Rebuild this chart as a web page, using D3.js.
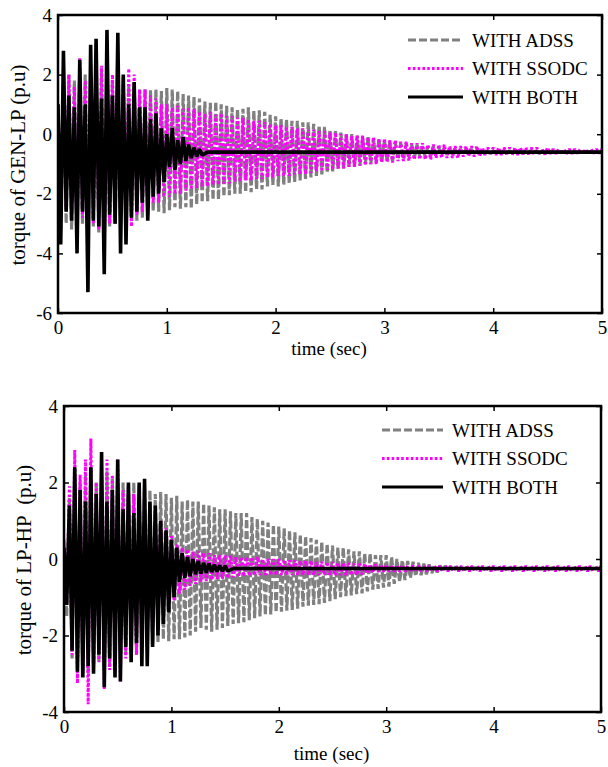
<!DOCTYPE html>
<html>
<head>
<meta charset="utf-8">
<script src="https://cdn.jsdelivr.net/npm/d3@7"></script>
<style>
  body { margin: 0; background: #fff; }
  svg { display: block; }
  svg text { font-family: 'Liberation Serif', 'Times New Roman', Times, 'DejaVu Serif', serif; fill: #000; }
</style>
</head>
<body>
<svg width="608" height="767"></svg>
<script>
// upper peaks are read every dt seconds, lower peaks half-way between them
const dt = 0.05
const xTicks = [0, 1, 2, 3, 4, 5]
const seriesNames = ['WITH ADSS', 'WITH SSODC', 'WITH BOTH']

// ---- torque of GEN-LP ----
const genTicks = [-6, -4, -2, 0, 2, 4]
const genRest = -0.6
const genAdssHi = [1.0,1.8,2.0,1.8,2.2,2.0,1.8,2.0,2.2,2.0,1.8,1.8,1.7,1.6,1.6,1.5,1.55,1.5,1.5,1.45,
  1.55,1.5,1.45,1.35,1.3,1.25,1.2,1.1,1.05,1.1,1.0,0.95,0.9,0.85,0.85,0.9,0.8,0.8,0.75,0.65,
  0.6,0.55,0.5,0.45,0.45,0.4,0.4,0.35,0.3,0.25,0.15,0.1,0.05,0.0,0.0,-0.05,-0.1,-0.1,-0.15,-0.15,
  -0.2,-0.25,-0.25,-0.3,-0.3,-0.35,-0.35,-0.4,-0.4,-0.4,-0.45,-0.45,-0.45,-0.5,-0.5,-0.5,-0.5,-0.5,-0.55,-0.55,
  -0.55,-0.55,-0.55,-0.55,-0.55,-0.55,-0.55,-0.55,-0.55,-0.55,-0.55]
const genAdssLo = [-3.2,-3.0,-3.2,-3.5,-3.0,-3.2,-3.1,-3.3,-3.5,-3.1,-3.0,-3.0,-3.0,-2.9,-2.9,-2.8,-2.7,-2.6,-2.6,-2.65,
  -2.55,-2.45,-2.5,-2.45,-2.5,-2.35,-2.3,-2.25,-2.2,-2.2,-2.1,-2.05,-2.0,-2.0,-1.95,-1.95,-1.85,-1.85,-1.75,-1.7,
  -1.75,-1.7,-1.65,-1.6,-1.55,-1.5,-1.45,-1.4,-1.35,-1.3,-1.25,-1.2,-1.15,-1.1,-1.1,-1.05,-1.0,-1.0,-0.95,-0.95,
  -0.9,-0.9,-0.85,-0.85,-0.8,-0.8,-0.75,-0.75,-0.75,-0.7,-0.7,-0.7,-0.7,-0.65,-0.65,-0.65,-0.65,-0.65,-0.65,-0.65,
  -0.65,-0.65,-0.65,-0.65,-0.65,-0.65,-0.65,-0.65,-0.65,-0.65]
const genSsodcHi = [1.0,1.0,2.0,1.6,2.55,1.8,1.5,2.0,2.3,2.55,2.0,1.6,1.9,2.2,2.0,1.5,1.5,1.3,1.2,1.0,
  1.0,0.9,0.95,0.85,0.9,0.85,0.75,0.7,0.75,0.65,0.7,0.6,0.6,0.55,0.55,0.5,0.45,0.45,0.4,0.35,
  0.3,0.3,0.25,0.25,0.2,0.2,0.15,0.15,0.1,0.1,0.05,0.05,0.0,0.0,-0.05,-0.05,-0.05,-0.1,-0.1,-0.15,
  -0.15,-0.2,-0.2,-0.25,-0.25,-0.3,-0.3,-0.3,-0.35,-0.35,-0.35,-0.35,-0.4,-0.4,-0.4,-0.4,-0.4,-0.4,-0.45,-0.45,
  -0.45,-0.45,-0.45,-0.45,-0.45,-0.45,-0.45,-0.45,-0.45,-0.5,-0.45,-0.5,-0.5,-0.5,-0.5,-0.5,-0.5,-0.5,-0.5,-0.5,-0.5]
const genSsodcLo = [-2.0,-2.5,-2.2,-3.6,-2.8,-2.6,-3.0,-3.2,-4.1,-3.0,-2.6,-2.9,-3.0,-3.1,-2.7,-2.6,-2.6,-2.3,-2.3,-2.1,
  -2.1,-2.0,-2.0,-1.9,-1.85,-1.8,-1.75,-1.75,-1.7,-1.7,-1.65,-1.65,-1.6,-1.6,-1.55,-1.55,-1.5,-1.5,-1.45,-1.45,
  -1.4,-1.4,-1.4,-1.35,-1.35,-1.35,-1.3,-1.25,-1.25,-1.2,-1.2,-1.15,-1.15,-1.1,-1.1,-1.05,-1.05,-1.0,-1.0,-0.95,
  -0.95,-0.95,-0.9,-0.9,-0.9,-0.85,-0.85,-0.85,-0.85,-0.8,-0.8,-0.8,-0.8,-0.8,-0.75,-0.75,-0.75,-0.75,-0.7,-0.7,
  -0.7,-0.7,-0.7,-0.7,-0.7,-0.68,-0.68,-0.68,-0.68,-0.68,-0.66,-0.66,-0.66,-0.66,-0.66,-0.65,-0.65,-0.65,-0.65,-0.65]
const genBothHi = [1.0,2.8,1.3,0.9,2.5,1.0,3.0,3.2,1.2,3.5,1.3,3.4,2.0,1.0,1.75,0.9,0.9,0.5,0.7,0.2,
  0.0,0.2,-0.2,-0.1,-0.35,-0.45,-0.5]
const genBothLo = [-3.7,-2.6,-2.9,-4.0,-2.6,-5.3,-2.9,-3.1,-4.7,-2.7,-3.0,-4.0,-3.7,-2.8,-2.6,-2.3,-2.9,-2.1,-2.0,-1.6,
  -1.1,-1.2,-1.0,-0.9,-0.8,-0.75,-0.7]

// ---- torque of LP-HP ----
const lpTicks = [-4, -2, 0, 2, 4]
const lpRest = -0.25
const lpAdssHi = [0.5,1.6,2.2,2.0,2.2,2.4,2.0,2.2,2.3,2.1,2.0,2.0,1.9,2.0,1.9,1.9,1.8,1.7,1.75,1.7,
  1.6,1.65,1.5,1.55,1.5,1.5,1.45,1.4,1.35,1.3,1.3,1.25,1.2,1.2,1.2,1.1,1.05,1.0,0.95,0.9,
  0.85,0.8,0.75,0.7,0.65,0.6,0.55,0.5,0.45,0.4,0.35,0.3,0.3,0.25,0.2,0.2,0.15,0.15,0.1,0.1,
  0.1,0.05,0.0,-0.03,-0.05,-0.07,-0.1,-0.12,-0.14,-0.16,-0.17,-0.18,-0.2,-0.2,-0.21,-0.22,-0.23]
const lpAdssLo = [-1.5,-2.6,-2.8,-2.9,-3.0,-2.8,-2.7,-2.9,-2.8,-2.6,-2.7,-2.5,-2.4,-2.5,-2.3,-2.3,-2.2,-2.2,-2.1,-2.15,
  -2.1,-2.1,-2.05,-2.0,-1.9,-1.8,-1.85,-1.9,-1.85,-1.8,-1.75,-1.7,-1.68,-1.65,-1.6,-1.55,-1.5,-1.47,-1.45,-1.4,
  -1.38,-1.35,-1.33,-1.3,-1.25,-1.22,-1.2,-1.18,-1.15,-1.1,-1.05,-1.0,-0.97,-0.95,-0.92,-0.9,-0.85,-0.8,-0.78,-0.75,
  -0.72,-0.65,-0.6,-0.55,-0.5,-0.45,-0.42,-0.4,-0.37,-0.35,-0.33,-0.31,-0.3,-0.29,-0.28,-0.27]
const lpSsodcHi = [0.0,1.9,2.85,2.2,2.6,3.15,2.0,2.3,2.6,2.2,2.6,1.8,1.9,1.7,1.6,1.3,1.2,1.1,1.0,0.8,
  0.6,0.4,0.3,0.25,0.2,0.2,0.15,0.15,0.1,0.1,0.1,0.1,0.05,0.05,0.05,0.05,0.05,0.0,0.0,0.0,
  0.0,-0.02,-0.03,-0.03,-0.05,-0.05,-0.05,-0.07,-0.07,-0.08,-0.08,-0.1,-0.1,-0.1,-0.12,-0.12,-0.12,-0.14,-0.14,-0.15,
  -0.15,-0.16,-0.16,-0.16,-0.17,-0.17,-0.17,-0.17,-0.18,-0.18,-0.18,-0.18,-0.18,-0.18,-0.18,-0.18,-0.18,-0.18,-0.18,-0.18,
  -0.18,-0.18,-0.18,-0.18,-0.18,-0.18,-0.18,-0.18,-0.18,-0.18,-0.18,-0.18,-0.18,-0.18,-0.18,-0.18,-0.18,-0.18,-0.18,-0.18,-0.18]
const lpSsodcLo = [-1.2,-2.5,-3.25,-3.0,-3.8,-2.9,-2.7,-3.4,-2.9,-2.95,-3.2,-2.6,-2.4,-2.5,-2.3,-2.0,-2.0,-1.8,-1.6,-1.3,
  -1.1,-0.9,-0.8,-0.7,-0.65,-0.6,-0.58,-0.55,-0.52,-0.52,-0.5,-0.48,-0.47,-0.45,-0.44,-0.43,-0.42,-0.42,-0.42,-0.42,
  -0.42,-0.42,-0.42,-0.42,-0.42,-0.42,-0.42,-0.42,-0.42,-0.42,-0.42,-0.42,-0.42,-0.42,-0.42,-0.4,-0.38,-0.36,-0.34,-0.33,
  -0.33,-0.33,-0.33,-0.33,-0.33,-0.33,-0.33,-0.32,-0.32,-0.32,-0.32,-0.32,-0.32,-0.32,-0.32,-0.32,-0.32,-0.32,-0.32,-0.32,
  -0.32,-0.32,-0.32,-0.32,-0.32,-0.32,-0.32,-0.32,-0.32,-0.32,-0.32,-0.32,-0.32,-0.32,-0.32,-0.32,-0.32,-0.32,-0.32,-0.32]
const lpBothHi = [0.3,1.4,2.4,1.8,1.5,2.4,1.7,2.8,1.5,1.8,2.6,1.3,2.0,1.2,2.0,2.1,1.5,1.4,1.0,0.75,
  0.5,0.3,0.15,0.05,0.0,-0.05,-0.1,-0.12,-0.15,-0.17,-0.18]
const lpBothLo = [-1.2,-2.4,-2.95,-3.1,-2.8,-3.0,-2.5,-3.35,-2.6,-3.1,-3.2,-2.3,-2.7,-2.2,-2.8,-2.8,-2.3,-2.0,-1.7,-1.4,
  -1.0,-0.6,-0.5,-0.45,-0.4,-0.38,-0.36,-0.34,-0.33,-0.32,-0.31]

const svg = d3.select('svg')
const fontFamily = "'Liberation Serif', 'Times New Roman', Times, 'DejaVu Serif', serif"

const styles = [
  {stroke: '#808080', width: 3.2, dash: '8,3'},
  {stroke: '#ff00ff', width: 3.0, dash: '2.6,2.2'},
  {stroke: '#000000', width: 3.6, dash: null}
]
const legendWidths = [3, 3, 3]

const panels = [
  {
    top: 15, bottom: 313, left: 58, right: 602,
    yDomain: [-6, 4], yTicks: genTicks, rest: genRest,
    series: [[genAdssHi, genAdssLo], [genSsodcHi, genSsodcLo], [genBothHi, genBothLo]],
    ylabel: 'torque of GEN-LP (p.u)', ylabelX: 18, xlabelDy: 42,
    legend: {x1: 408, x2: 463, y: 40, step: 28.5}
  },
  {
    top: 406, bottom: 712, left: 64, right: 601,
    yDomain: [-4, 4], yTicks: lpTicks, rest: lpRest,
    series: [[lpAdssHi, lpAdssLo], [lpSsodcHi, lpSsodcLo], [lpBothHi, lpBothLo]],
    ylabel: 'torque of LP-HP\u00a0\u00a0(p.u)', ylabelX: 24, xlabelDy: 48,
    legend: {x1: 382, x2: 443, y: 430, step: 28.5}
  }
]

// peaks alternate: hi[i] at i*dt, lo[i] at i*dt + dt/2, then the settled level
const peaksToPoints = (hi, lo, rest, tEnd) => {
  const pts = []
  hi.forEach((v, i) => {
    pts.push([i * dt, v])
    if (i < lo.length) pts.push([i * dt + dt / 2, lo[i]])
  })
  const tLast = pts[pts.length - 1][0]
  if (tLast < tEnd) pts.push([Math.min(tLast + dt, tEnd), rest], [tEnd, rest])
  return pts
}

const styleText = sel => sel.selectAll('text')
  .attr('font-family', fontFamily)
  .attr('font-size', 19)
  .attr('fill', '#000')

panels.forEach((p, pi) => {
  const x = d3.scaleLinear().domain([0, 5]).range([p.left, p.right])
  const y = d3.scaleLinear().domain(p.yDomain).range([p.bottom, p.top])
  const g = svg.append('g')

  const clipId = 'clip' + pi
  svg.append('clipPath').attr('id', clipId)
    .append('rect')
      .attr('x', p.left).attr('y', p.top)
      .attr('width', p.right - p.left).attr('height', p.bottom - p.top)

  const line = d3.line().x(d => x(d[0])).y(d => y(d[1]))
  const traces = g.append('g').attr('clip-path', `url(#${clipId})`)
  p.series.forEach(([hi, lo], si) => {
    const st = styles[si]
    traces.append('path')
      .datum(peaksToPoints(hi, lo, p.rest, 5))
      .attr('d', line)
      .attr('fill', 'none')
      .attr('stroke', st.stroke)
      .attr('stroke-width', st.width)
      .attr('stroke-linejoin', 'bevel')
      .attr('stroke-dasharray', st.dash)
  })

  const fmt = d => String(d)
  const ax = [
    g.append('g').attr('transform', `translate(0,${p.bottom})`)
      .call(d3.axisBottom(x).tickValues(xTicks).tickFormat(fmt).tickSizeInner(-5).tickSizeOuter(0).tickPadding(8)),
    g.append('g').attr('transform', `translate(0,${p.top})`)
      .call(d3.axisTop(x).tickValues(xTicks).tickFormat('').tickSizeInner(-5).tickSizeOuter(0)),
    g.append('g').attr('transform', `translate(${p.left},0)`)
      .call(d3.axisLeft(y).tickValues(p.yTicks).tickFormat(fmt).tickSizeInner(-5).tickSizeOuter(0).tickPadding(6)),
    g.append('g').attr('transform', `translate(${p.right},0)`)
      .call(d3.axisRight(y).tickValues(p.yTicks).tickFormat('').tickSizeInner(-5).tickSizeOuter(0))
  ]
  ax.forEach(a => {
    a.attr('font-family', fontFamily)
    a.select('.domain').remove()
    a.selectAll('line').attr('stroke', '#000').attr('stroke-width', 1.5)
    styleText(a)
  })

  g.append('rect')
    .attr('x', p.left).attr('y', p.top)
    .attr('width', p.right - p.left).attr('height', p.bottom - p.top)
    .attr('fill', 'none').attr('stroke', '#000').attr('stroke-width', 2.5)

  g.append('text')
    .attr('x', (p.left + p.right) / 2 - 1)
    .attr('y', p.bottom + p.xlabelDy)
    .attr('text-anchor', 'middle')
    .attr('font-family', fontFamily)
    .attr('font-size', 19)
    .text('time (sec)')

  g.append('text')
    .attr('transform', `translate(${p.ylabelX},${(p.top + p.bottom) / 2 + 1}) rotate(-90)`)
    .attr('text-anchor', 'middle')
    .attr('dominant-baseline', 'central')
    .attr('font-family', fontFamily)
    .attr('font-size', 21)
    .text(p.ylabel)

  const lg = g.append('g')
  seriesNames.forEach((name, i) => {
    const st = styles[i]
    const ly = p.legend.y + i * p.legend.step
    lg.append('line')
      .attr('x1', p.legend.x1).attr('x2', p.legend.x2)
      .attr('y1', ly).attr('y2', ly)
      .attr('stroke', st.stroke).attr('stroke-width', legendWidths[i])
      .attr('stroke-dasharray', st.dash)
    lg.append('text')
      .attr('x', p.legend.x2 + 9).attr('y', ly + 6.5)
      .attr('font-family', fontFamily)
      .attr('font-size', 19)
      .text(name)
  })
})
</script>
</body>
</html>
